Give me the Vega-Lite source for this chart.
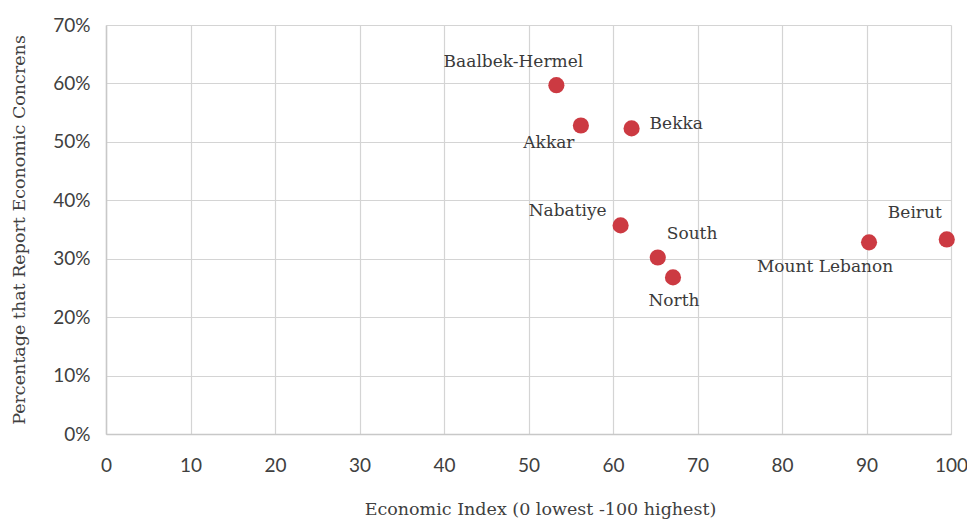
{
  "$schema": "https://vega.github.io/schema/vega-lite/v6.json",
  "width": 845,
  "height": 409,
  "autosize": {"type": "none"},
  "padding": {"left": 106, "top": 25, "right": 16, "bottom": 88},
  "background": "white",
  "config": {
    "view": {"stroke": null},
    "axis": {
      "gridColor": "#d4d4d4",
      "gridWidth": 1.2,
      "domainColor": "#c8c8c8",
      "domainWidth": 1.5,
      "ticks": false,
      "labelFont": "Lato",
      "labelFontSize": 19,
      "labelColor": "#404040",
      "labelFlush": false,
      "titleFont": "DejaVu Serif",
      "titleFontSize": 17.5,
      "titleFontWeight": "normal",
      "titleColor": "#404040"
    }
  },
  "data": {
    "values": [
      {"region": "Baalbek-Hermel", "index": 53.3, "share": 0.597},
      {"region": "Akkar", "index": 56.2, "share": 0.528},
      {"region": "Bekka", "index": 62.2, "share": 0.523},
      {"region": "Nabatiye", "index": 60.9, "share": 0.357},
      {"region": "South", "index": 65.3, "share": 0.302},
      {"region": "North", "index": 67.1, "share": 0.268},
      {"region": "Mount Lebanon", "index": 90.3, "share": 0.328},
      {"region": "Beirut", "index": 99.5, "share": 0.333}
    ]
  },
  "encoding": {
    "x": {
      "field": "index",
      "type": "quantitative",
      "scale": {"domain": [0, 100], "nice": false},
      "axis": {
        "values": [0, 10, 20, 30, 40, 50, 60, 70, 80, 90, 100],
        "labelPadding": 22,
        "title": "Economic Index (0 lowest -100 highest)",
        "titlePadding": 25,
        "titleX": 434
      }
    },
    "y": {
      "field": "share",
      "type": "quantitative",
      "scale": {"domain": [0, 0.7], "nice": false},
      "axis": {
        "values": [0, 0.1, 0.2, 0.3, 0.4, 0.5, 0.6, 0.7],
        "format": ".0%",
        "labelPadding": 16,
        "title": "Percentage that Report Economic Concrens",
        "titlePadding": 24
      }
    }
  },
  "layer": [
    {
      "mark": {"type": "point", "filled": true, "size": 260, "color": "#cc3a42", "opacity": 1}
    },
    {
      "transform": [{"filter": "datum.region === 'Baalbek-Hermel'"}],
      "mark": {"type": "text", "font": "DejaVu Serif", "fontSize": 17, "color": "#3a3a3a", "align": "center", "baseline": "middle", "dx": -43, "dy": -23},
      "encoding": {"text": {"field": "region"}}
    },
    {
      "transform": [{"filter": "datum.region === 'Akkar'"}],
      "mark": {"type": "text", "font": "DejaVu Serif", "fontSize": 17, "color": "#3a3a3a", "align": "center", "baseline": "middle", "dx": -32, "dy": 18},
      "encoding": {"text": {"field": "region"}}
    },
    {
      "transform": [{"filter": "datum.region === 'Bekka'"}],
      "mark": {"type": "text", "font": "DejaVu Serif", "fontSize": 17, "color": "#3a3a3a", "align": "left", "baseline": "middle", "dx": 18, "dy": -4},
      "encoding": {"text": {"field": "region"}}
    },
    {
      "transform": [{"filter": "datum.region === 'Nabatiye'"}],
      "mark": {"type": "text", "font": "DejaVu Serif", "fontSize": 17, "color": "#3a3a3a", "align": "right", "baseline": "middle", "dx": -14, "dy": -14},
      "encoding": {"text": {"field": "region"}}
    },
    {
      "transform": [{"filter": "datum.region === 'South'"}],
      "mark": {"type": "text", "font": "DejaVu Serif", "fontSize": 17, "color": "#3a3a3a", "align": "left", "baseline": "middle", "dx": 9, "dy": -24},
      "encoding": {"text": {"field": "region"}}
    },
    {
      "transform": [{"filter": "datum.region === 'North'"}],
      "mark": {"type": "text", "font": "DejaVu Serif", "fontSize": 17, "color": "#3a3a3a", "align": "center", "baseline": "middle", "dx": 1, "dy": 24},
      "encoding": {"text": {"field": "region"}}
    },
    {
      "transform": [{"filter": "datum.region === 'Mount Lebanon'"}],
      "mark": {"type": "text", "font": "DejaVu Serif", "fontSize": 17, "color": "#3a3a3a", "align": "center", "baseline": "middle", "dx": -44, "dy": 25},
      "encoding": {"text": {"field": "region"}}
    },
    {
      "transform": [{"filter": "datum.region === 'Beirut'"}],
      "mark": {"type": "text", "font": "DejaVu Serif", "fontSize": 17, "color": "#3a3a3a", "align": "center", "baseline": "middle", "dx": -32, "dy": -26},
      "encoding": {"text": {"field": "region"}}
    }
  ]
}
